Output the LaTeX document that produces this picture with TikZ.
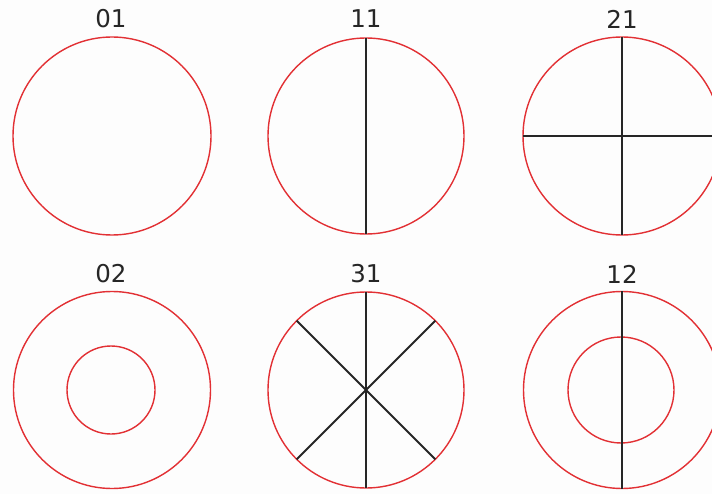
\documentclass[tikz,border=0pt]{standalone}
\usepackage{fontspec}
\setmainfont{DejaVu Sans}
\definecolor{ringred}{RGB}{226,48,52}
\definecolor{bgwhite}{RGB}{253,253,253}
\begin{document}
\begin{tikzpicture}[x=1pt,y=-1pt,
  ring/.style={circle,draw=ringred,line width=1.4pt,inner sep=0pt,outer sep=0pt,minimum size=#1},
  spoke/.style={draw=black!85,line width=1.8pt},
  lbl/.style={font=\fontsize{24.5}{26}\selectfont,text=black!85,inner sep=0pt}]
\useasboundingbox[fill=bgwhite] (0,0) rectangle (712,494);
% labels
\node[lbl] (t01) at (111,19) {01};
\node[lbl] (t11) at (366,19) {11};
\node[lbl] (t21) at (622,19) {21};
\node[lbl] (t02) at (111,274) {02};
\node[lbl] (t31) at (366,274) {31};
\node[lbl] (t12) at (622,274) {12};
% top row
\node[ring=198pt] (c01) at (112,136) {};
\node[ring=196pt] (c11) at (366,136) {};
\node[ring=198pt] (c21) at (622,136) {};
% bottom row
\node[ring=197pt] (c02) at (112,390) {};
\node[ring=88pt] (i02) at (111,390) {};
\node[ring=196pt] (c31) at (366,390) {};
\node[ring=197pt] (c12) at (622,390) {};
\node[ring=106pt] (i12) at (621,390) {};
% spokes
\draw[spoke] (c11.north) -- (c11.south);
\draw[spoke] (c21.north) -- (c21.south);
\draw[spoke] (c21.west) -- (c21.east);
\draw[spoke] (c31.north) -- (c31.south);
\draw[spoke] (c31.135) -- (c31.-45);
\draw[spoke] (c31.45) -- (c31.-135);
\draw[spoke] (c12.north) -- (c12.south);
\end{tikzpicture}
\end{document}
